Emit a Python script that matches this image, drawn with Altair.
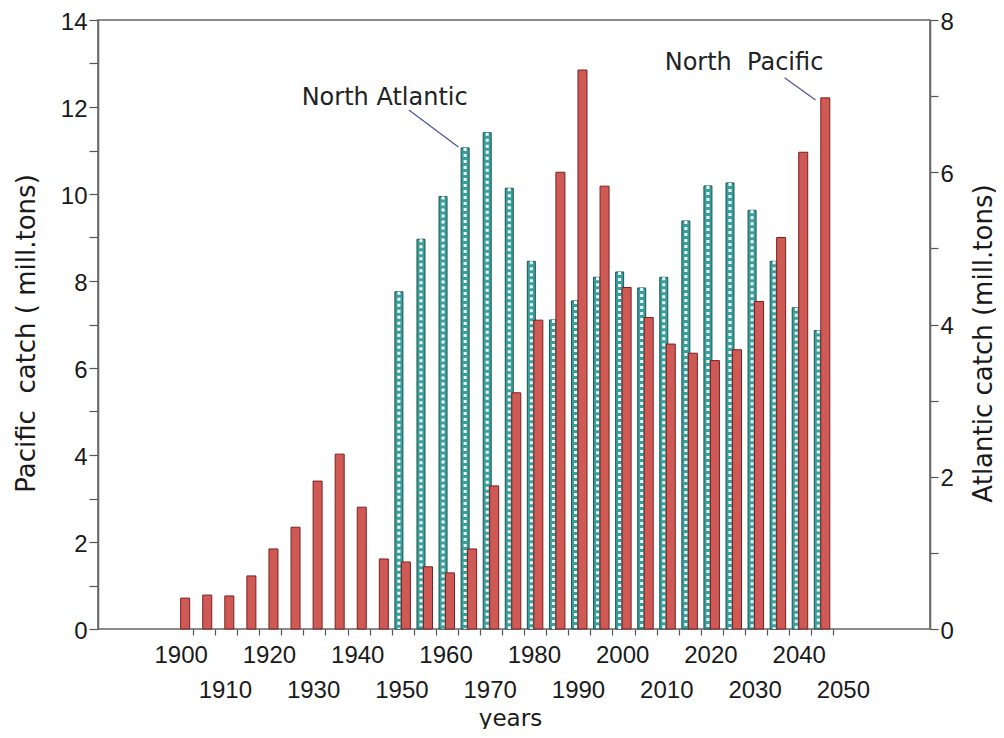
import altair as alt
import pandas as pd

# ---- data ----
pac_years = [1900, 1905, 1910, 1915, 1920, 1925, 1930, 1935, 1940, 1945,
             1950, 1955, 1960, 1965, 1970, 1975, 1980, 1985, 1990, 1995,
             2000, 2005, 2010, 2015, 2020, 2025, 2030, 2035, 2040, 2045]
pac_catch = [0.71, 0.78, 0.76, 1.22, 1.84, 2.34, 3.40, 4.02, 2.80, 1.61,
             1.54, 1.43, 1.29, 1.84, 3.29, 5.43, 7.10, 10.50, 12.85, 10.18,
             7.85, 7.16, 6.55, 6.34, 6.17, 6.42, 7.53, 9.00, 10.96, 12.21]

atl_years = [1950, 1955, 1960, 1965, 1970, 1975, 1980, 1985, 1990, 1995,
             2000, 2005, 2010, 2015, 2020, 2025, 2030, 2035, 2040, 2045]
atl_catch = [4.43, 5.12, 5.68, 6.32, 6.52, 5.79, 4.83, 4.06, 4.31, 4.62,
             4.69, 4.48, 4.62, 5.36, 5.82, 5.86, 5.50, 4.83, 4.22, 3.92]

even_labels = [1900, 1920, 1940, 1960, 1980, 2000, 2020, 2040]
odd_labels = [1910, 1930, 1950, 1970, 1990, 2010, 2030, 2050]
x_tick_start = 1901.9
x_ticks = [x_tick_start + 5 * i for i in range(30)]
left_ticks = list(range(0, 15))
right_ticks = list(range(0, 9))

ann_text = ["North Atlantic", "North\u00a0 Pacific"]
ann_x = [1945.3, 2026.7]
ann_y = [12.05, 12.85]
lead_x = [1950.8, 2035.9]
lead_y = [11.93, 12.67]
lead_x2 = [1962.0, 2042.9]
lead_y2 = [11.08, 12.16]

pac_df = pd.DataFrame({"year": pac_years, "catch": pac_catch})
atl_df = pd.DataFrame({"year": atl_years, "catch": atl_catch})
ann_df = pd.DataFrame({"x": ann_x, "y": ann_y, "label": ann_text})
lead_df = pd.DataFrame({"x": lead_x, "y": lead_y, "x2": lead_x2, "y2": lead_y2})

XDOM = [1881.5, 2067.7]
xs = alt.Scale(domain=XDOM, nice=False, zero=False)
ys_p = alt.Scale(domain=[0, 14], nice=False)
ys_a = alt.Scale(domain=[0, 8], nice=False)

tick_axis = alt.Axis(orient="bottom", values=x_ticks, labels=False, tickSize=6,
                     domain=False, title=None, grid=False)
even_axis = alt.Axis(orient="bottom", values=even_labels, format="d", ticks=False,
                     tickSize=0, domain=False, labelPadding=14, labelOffset=-4,
                     title=None, labelOverlap=False, labelFlush=False, grid=False)
odd_axis = alt.Axis(orient="bottom", values=odd_labels, format="d", ticks=False,
                    tickSize=0, domain=False, labelPadding=49, labelOffset=-4,
                    title="years", titleX=412, titleY=96, titleAlign="center",
                    titleBaseline="alphabetic", titleFont="DejaVu Sans",
                    titleFontSize=23, labelOverlap=False, labelFlush=False, grid=False)
left_axis = alt.Axis(orient="left", values=left_ticks,
                     labelExpr="datum.value % 2 == 0 ? datum.label : ''",
                     tickSize=9, labelPadding=2, labelOffset=2, grid=False,
                     title="Pacific\u00a0 catch ( mill.tons)", titleAngle=270,
                     titleX=-64, titleY=313, titleAlign="center",
                     titleBaseline="alphabetic")
right_axis = alt.Axis(orient="right", values=right_ticks,
                      labelExpr="datum.value % 2 == 0 ? datum.label : ''",
                      tickSize=8, labelPadding=2, labelOffset=2, grid=False,
                      title="Atlantic catch (mill.tons)", titleAngle=270,
                      titleX=61, titleY=323, titleAlign="center",
                      titleBaseline="alphabetic")

atl_bars = alt.Chart(atl_df).mark_bar(
    size=8, xOffset=-6.5, fill="#3a9e9b", stroke="#1b5552", strokeWidth=1
).encode(
    x=alt.X("year:Q", scale=xs, axis=None),
    y=alt.Y("catch:Q", scale=ys_a, axis=right_axis),
)

atl_dash = alt.Chart(atl_df).mark_rule(
    xOffset=-6.5, color="#f0ffff", strokeWidth=3, strokeDash=[3, 3]
).encode(
    x=alt.X("year:Q", scale=xs, axis=None),
    y=alt.Y("catch:Q", scale=ys_a, axis=None),
    y2=alt.datum(0),
)

pac_bars = alt.Chart(pac_df).mark_bar(
    size=9, xOffset=0.5, fill="#cf5a55", stroke="#7a1f1f", strokeWidth=1
).encode(
    x=alt.X("year:Q", scale=xs, axis=tick_axis),
    y=alt.Y("catch:Q", scale=ys_p, axis=left_axis),
)

ann = alt.Chart(ann_df).mark_text(
    font="DejaVu Sans", fontSize=24, color="#222222", align="center",
    baseline="alphabetic"
).encode(
    x=alt.X("x:Q", scale=xs, axis=even_axis),
    y=alt.Y("y:Q", scale=ys_p, axis=None),
    text="label:N",
)

lead = alt.Chart(lead_df).mark_rule(color="#5050a0", strokeWidth=1.2).encode(
    x=alt.X("x:Q", scale=xs, axis=odd_axis),
    y=alt.Y("y:Q", scale=ys_p, axis=None),
    x2="x2:Q",
    y2="y2:Q",
)

chart = alt.layer(atl_bars, atl_dash, pac_bars, ann, lead).resolve_scale(
    y="independent"
).resolve_axis(
    x="independent", y="independent"
).properties(
    width=832, height=609, autosize="none",
    padding={"left": 90, "top": 12, "right": 66, "bottom": 100},
    background="white",
).configure_axis(
    labelFont="Liberation Sans", labelFontSize=24, labelColor="#1a1a1a",
    titleFont="DejaVu Sans", titleFontSize=26, titleFontWeight="normal",
    titleColor="#1a1a1a", tickColor="#555555", domainColor="#666666",
    tickWidth=1.2, domainWidth=1.5,
).configure_view(
    stroke="#666666", strokeWidth=1.5
)

chart.save("out.html", embed_options={"renderer": "svg", "actions": False})
